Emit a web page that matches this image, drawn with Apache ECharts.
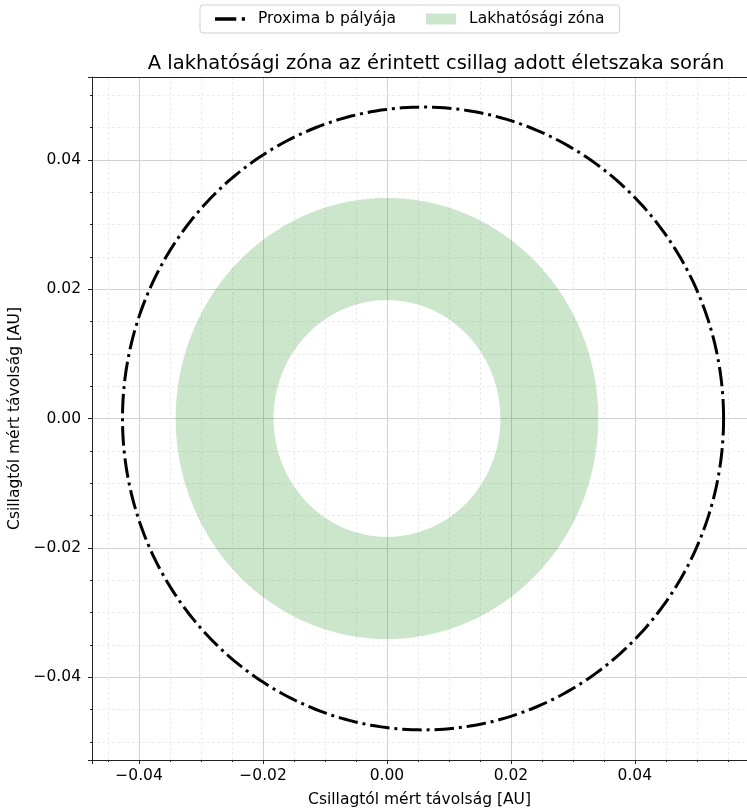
<!DOCTYPE html>
<html>
<head>
<meta charset="utf-8">
<script src="https://cdn.jsdelivr.net/npm/echarts@6/dist/echarts.min.js"></script>
<style>
  html, body { margin: 0; padding: 0; background: #fff; }
  #chart { width: 747px; height: 809px; }
</style>
</head>
<body>
<div id="chart"></div>
<script>
// Proxima b pályája: fél nagytengely [AU], excentricitás
const orbit = [0.0485, 0.12]
// lakhatósági zóna: belső és külső sugár [AU]
const habitableZone = [0.0183, 0.0341]
const seriesNames = ['Proxima b pályája', 'Lakhatósági zóna']
// a jobb szél a képen túl van, ezért a látható rész végéig
const xRange = [-0.0476, 0.0581]
const yRange = [-0.0528, 0.0528]

const font = 'DejaVu Sans'
const fmt = (v) => v.toFixed(2).replace('-', '\u2212')

// ellipszis pontjai a tengelyek skáláján keresztül
function ellipsePoints (api, cx, cy, rx, ry, reverse) {
  const pts = []
  for (let i = 0; i <= 360; i++) {
    const t = (reverse ? 360 - i : i) * Math.PI / 180
    pts.push(api.coord([cx + rx * Math.cos(t), cy + ry * Math.sin(t)]))
  }
  return pts
}

const axisCommon = {
  type: 'value',
  minInterval: 0.02,
  maxInterval: 0.02,
  axisLine: { show: true, onZero: false, lineStyle: { color: '#222', width: 1 } },
  axisTick: { show: true, length: 4, lineStyle: { color: '#222', width: 1 } },
  minorTick: { show: true, splitNumber: 4, length: 2, lineStyle: { color: '#222', width: 1 } },
  splitLine: { show: true, lineStyle: { color: '#d2d2d2', width: 1 } },
  minorSplitLine: { show: true, lineStyle: { color: '#ececec', width: 1, type: [3, 2] } },
  nameLocation: 'middle',
  nameTextStyle: { fontFamily: font, fontSize: 15.5, color: '#000' },
  name: 'Csillagtól mért távolság [AU]'
}

const chart = echarts.init(document.getElementById('chart'))
chart.setOption({
  animation: false,
  title: {
    text: 'A lakhatósági zóna az érintett csillag adott életszaka során',
    left: 431,
    textAlign: 'center',
    top: 49,
    textStyle: { fontFamily: font, fontSize: 19.5, fontWeight: 'normal', color: '#000' }
  },
  legend: {
    top: 5,
    left: 200,
    padding: [6, 15],
    itemGap: 30,
    itemWidth: 30,
    itemHeight: 11,
    borderColor: '#cfcfcf',
    borderWidth: 1,
    borderRadius: 3,
    textStyle: { fontFamily: font, fontSize: 15.5, color: '#000', padding: [0, 0, 0, 8] },
    data: [
      { name: seriesNames[0], icon: 'path://M0,0h19.5v3h-19.5zM24.5,0h3v3h-3z', itemStyle: { color: '#000' } },
      { name: seriesNames[1], icon: 'rect', itemStyle: { color: 'rgba(0,128,0,0.2)' } }
    ]
  },
  grid: {
    left: 92,
    top: 77,
    right: 0,
    bottom: 49,
    containLabel: false,
    outerBoundsMode: 'none'
  },
  xAxis: [
    Object.assign({}, axisCommon, {
      min: xRange[0],
      max: xRange[1],
      nameGap: 32,
      axisLabel: { formatter: fmt, showMinLabel: false, showMaxLabel: false, fontFamily: font, fontSize: 15.5, color: '#000', margin: 8 }
    }),
    {
      // felső keret
      type: 'value',
      position: 'top',
      min: xRange[0],
      max: xRange[1],
      axisLine: { show: true, onZero: false, lineStyle: { color: '#222', width: 1 } },
      axisTick: { show: false },
      axisLabel: { show: false },
      splitLine: { show: false }
    }
  ],
  yAxis: Object.assign({}, axisCommon, {
    min: yRange[0],
    max: yRange[1],
    nameGap: 63,
    axisLabel: { formatter: fmt, showMinLabel: false, showMaxLabel: false, fontFamily: font, fontSize: 15.5, color: '#000', margin: 11 }
  }),
  series: [
    {
      name: seriesNames[1],
      type: 'custom',
      coordinateSystem: 'cartesian2d',
      itemStyle: { color: 'rgba(0,128,0,0.2)' },
      data: [habitableZone],
      renderItem: (params, api) => {
        const rIn = api.value(0)
        const rOut = api.value(1)
        const pts = ellipsePoints(api, 0, 0, rOut, rOut, false)
          .concat(ellipsePoints(api, 0, 0, rIn, rIn, true))
        return {
          type: 'polygon',
          shape: { points: pts },
          style: { fill: 'rgba(0,128,0,0.2)', stroke: null }
        }
      }
    },
    {
      name: seriesNames[0],
      type: 'custom',
      coordinateSystem: 'cartesian2d',
      itemStyle: { color: '#000' },
      data: [orbit],
      renderItem: (params, api) => {
        const a = api.value(0)
        const e = api.value(1)
        const b = a * Math.sqrt(1 - e * e)
        return {
          type: 'polyline',
          shape: { points: ellipsePoints(api, a * e, 0, a, b, false) },
          style: { fill: null, stroke: '#000', lineWidth: 3, lineDash: [19.5, 4.9, 3, 4.9], lineCap: 'butt' }
        }
      }
    }
  ]
})
</script>
</body>
</html>
